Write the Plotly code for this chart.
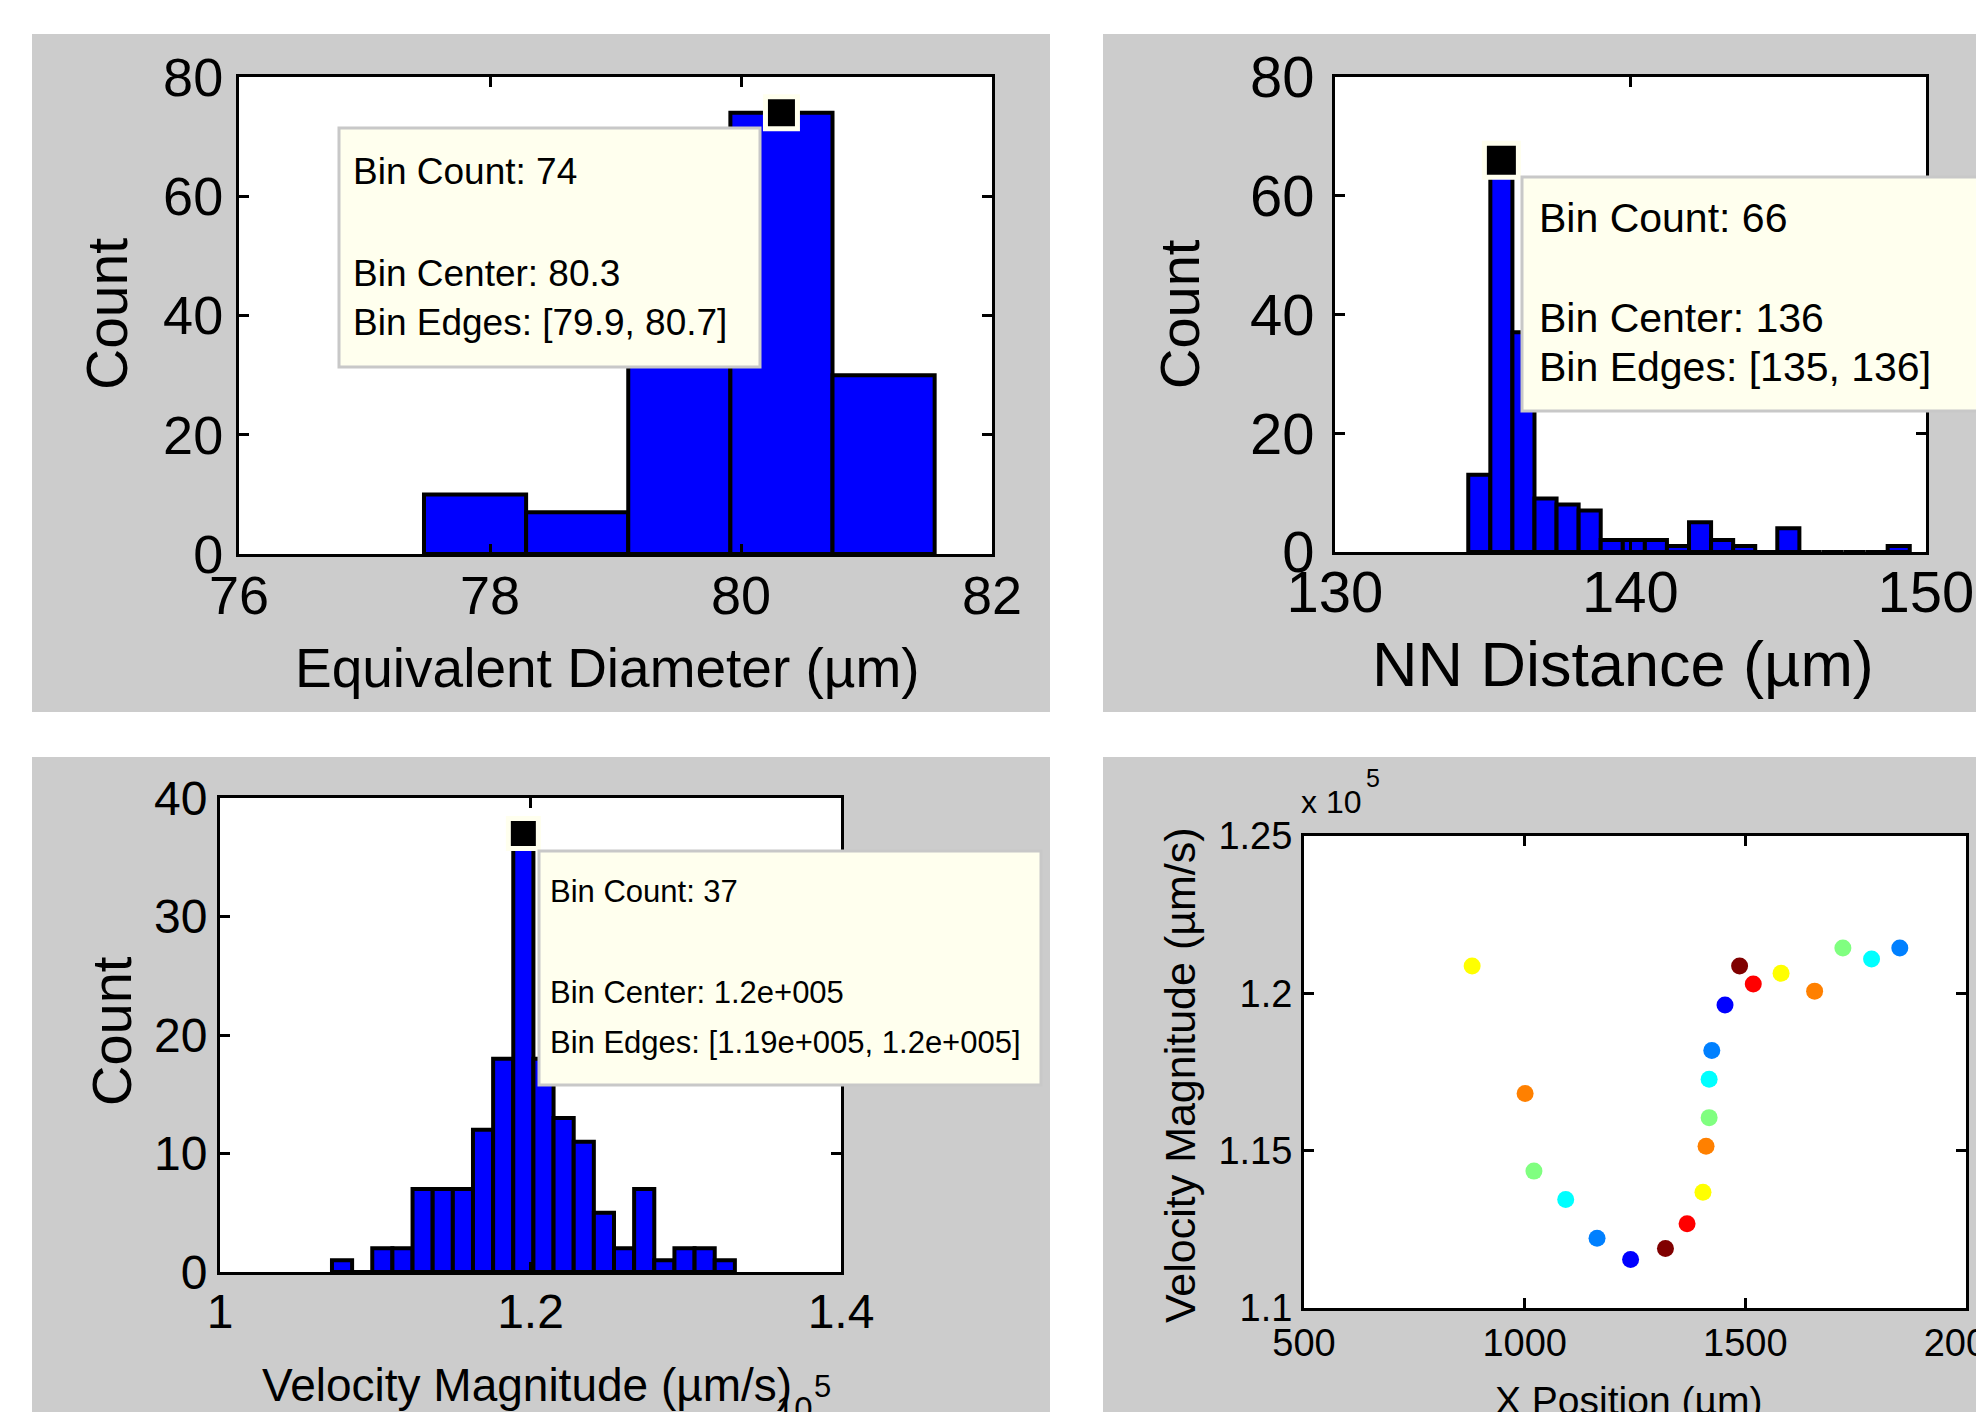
import plotly.graph_objects as go

W, H = 1984, 1412
OFF = 8  # default page margin of the html body

# ---------------- data ----------------
diam_first_edge = 77.474
diam_bin_width = 0.8138
diam_counts = [10, 7, 36, 74, 30]
diam_tip_bin = 3
diam_tip_text = ["Bin Count: 74", "Bin Center: 80.3", "Bin Edges: [79.9, 80.7]"]

nn_first_edge = 134.51
nn_bin_width = 0.747
nn_counts = [13, 66, 37, 9, 8, 7, 2, 2, 2, 1, 5, 2, 1, 0, 4, 0, 0, 0, 0, 1]
nn_tip_bin = 1
nn_tip_text = ["Bin Count: 66", "Bin Center: 136", "Bin Edges: [135, 136]"]

vel_first_edge = 107212
vel_bin_width = 1297.6
vel_counts = [1, 0, 2, 2, 7, 7, 7, 12, 18, 37, 18, 13, 11, 5, 2, 7, 1, 2, 2, 1]
vel_tip_bin = 9
vel_tip_text = ["Bin Count: 37", "Bin Center: 1.2e+005", "Bin Edges: [1.19e+005, 1.2e+005]"]

track_x = [881, 1001, 1021, 1093, 1164, 1240, 1319, 1368, 1404, 1411, 1418, 1418,
           1424, 1454, 1487, 1518, 1581, 1657, 1721, 1786, 1850]
track_v = [120870, 116820, 114350, 113450, 112220, 111540, 111890, 112680, 113680,
           115140, 116050, 117270, 118180, 119630, 120870, 120300, 120640, 120070,
           121440, 121090, 121440]
track_colors = ["#FFFF00", "#FF8000", "#80FF80", "#00FFFF", "#0080FF", "#0000FF", "#800000", "#FF0000",
                "#FFFF00", "#FF8000", "#80FF80", "#00FFFF", "#0080FF", "#0000FF", "#800000", "#FF0000",
                "#FFFF00", "#FF8000", "#80FF80", "#00FFFF", "#0080FF"]

p3_xtickvals = [100000, 120000, 140000]
p3_xticktext = ["1", "1.2", "1.4"]
p4_ytickvals = [110000, 115000, 120000, 125000]
p4_yticktext = ["1.1", "1.15", "1.2", "1.25"]

# ---------------- helpers ----------------
REG = "Liberation Sans, Arial, sans-serif"
GRAY = "#CCCCCC"
TIPBG = "#FFFFEE"


def px(x):
    return (x - OFF) / W


def py(y):
    return 1 - (y - OFF) / H


def bin_centers(first, width, counts):
    return [first + width * (i + 0.5) for i in range(len(counts))]


fig = go.Figure()

axes_px = {
    1: (239, 992, 77, 554),
    2: (1335, 1926, 77, 552),
    3: (220, 841, 798, 1272),
    4: (1304, 1966, 836, 1308),
}
gray_px = [(32, 1050, 34, 712), (1103, 2010, 34, 712), (32, 1050, 757, 1430), (1103, 2010, 757, 1430)]

shapes = []
for (x0, x1, y0, y1) in gray_px:
    shapes.append(dict(type="rect", xref="paper", yref="paper", x0=px(x0), x1=px(x1), y0=py(y1), y1=py(y0),
                       fillcolor=GRAY, line=dict(width=0), layer="below"))
for k, (x0, x1, y0, y1) in axes_px.items():
    shapes.append(dict(type="rect", xref="paper", yref="paper", x0=px(x0), x1=px(x1), y0=py(y1), y1=py(y0),
                       fillcolor="white", line=dict(width=0), layer="below"))


def add_hist(first, width, counts, xa, ya, tip_bin, tip_size):
    centers = bin_centers(first, width, counts)
    fig.add_trace(go.Bar(x=centers, y=counts, width=[width] * len(counts),
                         marker=dict(color="#0000FF", line=dict(color="black", width=4)),
                         xaxis=xa, yaxis=ya, showlegend=False, hoverinfo="skip"))
    fig.add_trace(go.Scatter(x=[centers[tip_bin]], y=[counts[tip_bin]], mode="markers",
                             marker=dict(symbol="square", color="black", size=tip_size,
                                         line=dict(color=TIPBG, width=5)),
                             xaxis=xa, yaxis=ya, showlegend=False, cliponaxis=False, hoverinfo="skip"))


add_hist(diam_first_edge, diam_bin_width, diam_counts, "x", "y", diam_tip_bin, 32)
add_hist(nn_first_edge, nn_bin_width, nn_counts, "x2", "y2", nn_tip_bin, 34)
add_hist(vel_first_edge, vel_bin_width, vel_counts, "x3", "y3", vel_tip_bin, 30)

fig.add_trace(go.Scatter(x=track_x, y=track_v, mode="markers",
                         marker=dict(color=track_colors, size=17, line=dict(width=0)),
                         xaxis="x4", yaxis="y4", showlegend=False, hoverinfo="skip"))


def axis(k, which, rng, fontsize, standoff, **kw):
    x0, x1, y0, y1 = axes_px[k]
    d = dict(range=rng, showline=True, linecolor="black", linewidth=3, mirror="ticks",
             ticks="inside", ticklen=10, tickwidth=3, tickcolor="black",
             showgrid=False, zeroline=False, fixedrange=True, automargin=False,
             ticklabeloverflow="allow",
             tickfont=dict(family=REG, size=fontsize, color="black"),
             ticklabelstandoff=standoff)
    if which == "x":
        d["domain"] = [px(x0), px(x1)]
        d["anchor"] = "y" if k == 1 else "y%d" % k
    else:
        d["domain"] = [py(y1), py(y0)]
        d["anchor"] = "x" if k == 1 else "x%d" % k
    d.update(kw)
    return d


layout = dict(
    width=W, height=H, margin=dict(l=0, r=0, t=0, b=0, pad=0, autoexpand=False),
    paper_bgcolor="white", plot_bgcolor="white", showlegend=False,
    barmode="overlay",
    xaxis=axis(1, "x", [76, 82], 54, -8, dtick=2, tick0=76),
    yaxis=axis(1, "y", [0, 80], 54, 2, dtick=20),
    xaxis2=axis(2, "x", [130, 150], 58, -13, dtick=10, tick0=130),
    yaxis2=axis(2, "y", [0, 80], 58, 6, dtick=20),
    xaxis3=axis(3, "x", [100000, 140000], 48, -5, tickvals=p3_xtickvals, ticktext=p3_xticktext),
    yaxis3=axis(3, "y", [0, 40], 48, 0, dtick=10),
    xaxis4=axis(4, "x", [500, 2000], 38, -1, dtick=500, tick0=500),
    yaxis4=axis(4, "y", [110000, 125000], 38, 1, tickvals=p4_ytickvals, ticktext=p4_yticktext),
)

ann = []


def text(t, x, y, size, angle=0, xanchor="center", yanchor="middle"):
    ann.append(dict(text=t, x=px(x), y=py(y), xref="paper", yref="paper", showarrow=False,
                    font=dict(family=REG, size=size, color="black"), textangle=angle,
                    xanchor=xanchor, yanchor=yanchor, borderpad=0))


# axis titles
text("Equivalent Diameter (µm)", 607, 668, 55)
text("Count", 107, 314, 57, angle=-90)
text("NN Distance (µm)", 1623, 664, 63)
text("Count", 1179, 314, 56, angle=-90)
text("Count", 111, 1031, 56, angle=-90)
text("Velocity Magnitude (µm/s)", 527, 1385, 46)
text("10", 814, 1408, 33, xanchor="right")
text("5", 813, 1386, 31, xanchor="left")
text("Velocity Magnitude (µm/s)", 1180, 1075, 43, angle=-90)
text("X Position (µm)", 1628, 1400, 39)
text("x 10", 1300, 802, 32, xanchor="left")
text("5", 1365, 778, 25, xanchor="left")


# data tips: box + text lines
def tip(lines, x0, x1, y0, y1, tx, line_y, size):
    shapes.append(dict(type="rect", xref="paper", yref="paper", x0=px(x0), x1=px(x1), y0=py(y1), y1=py(y0),
                       fillcolor=TIPBG, line=dict(color="#C8C8C8", width=3), layer="above"))
    for t, yy in zip(lines, line_y):
        text(t, tx, yy, size, xanchor="left")


tip(diam_tip_text, 339, 760, 128, 367, 352, [172, 273, 322], 37)
tip(nn_tip_text, 1522, 2010, 177, 411, 1538, [218, 318, 367], 41)
tip(vel_tip_text, 539, 1041, 851, 1085, 549, [892, 992, 1042], 31)

layout["shapes"] = shapes
layout["annotations"] = ann
fig.update_layout(**layout)
fig.write_html("out.html")
